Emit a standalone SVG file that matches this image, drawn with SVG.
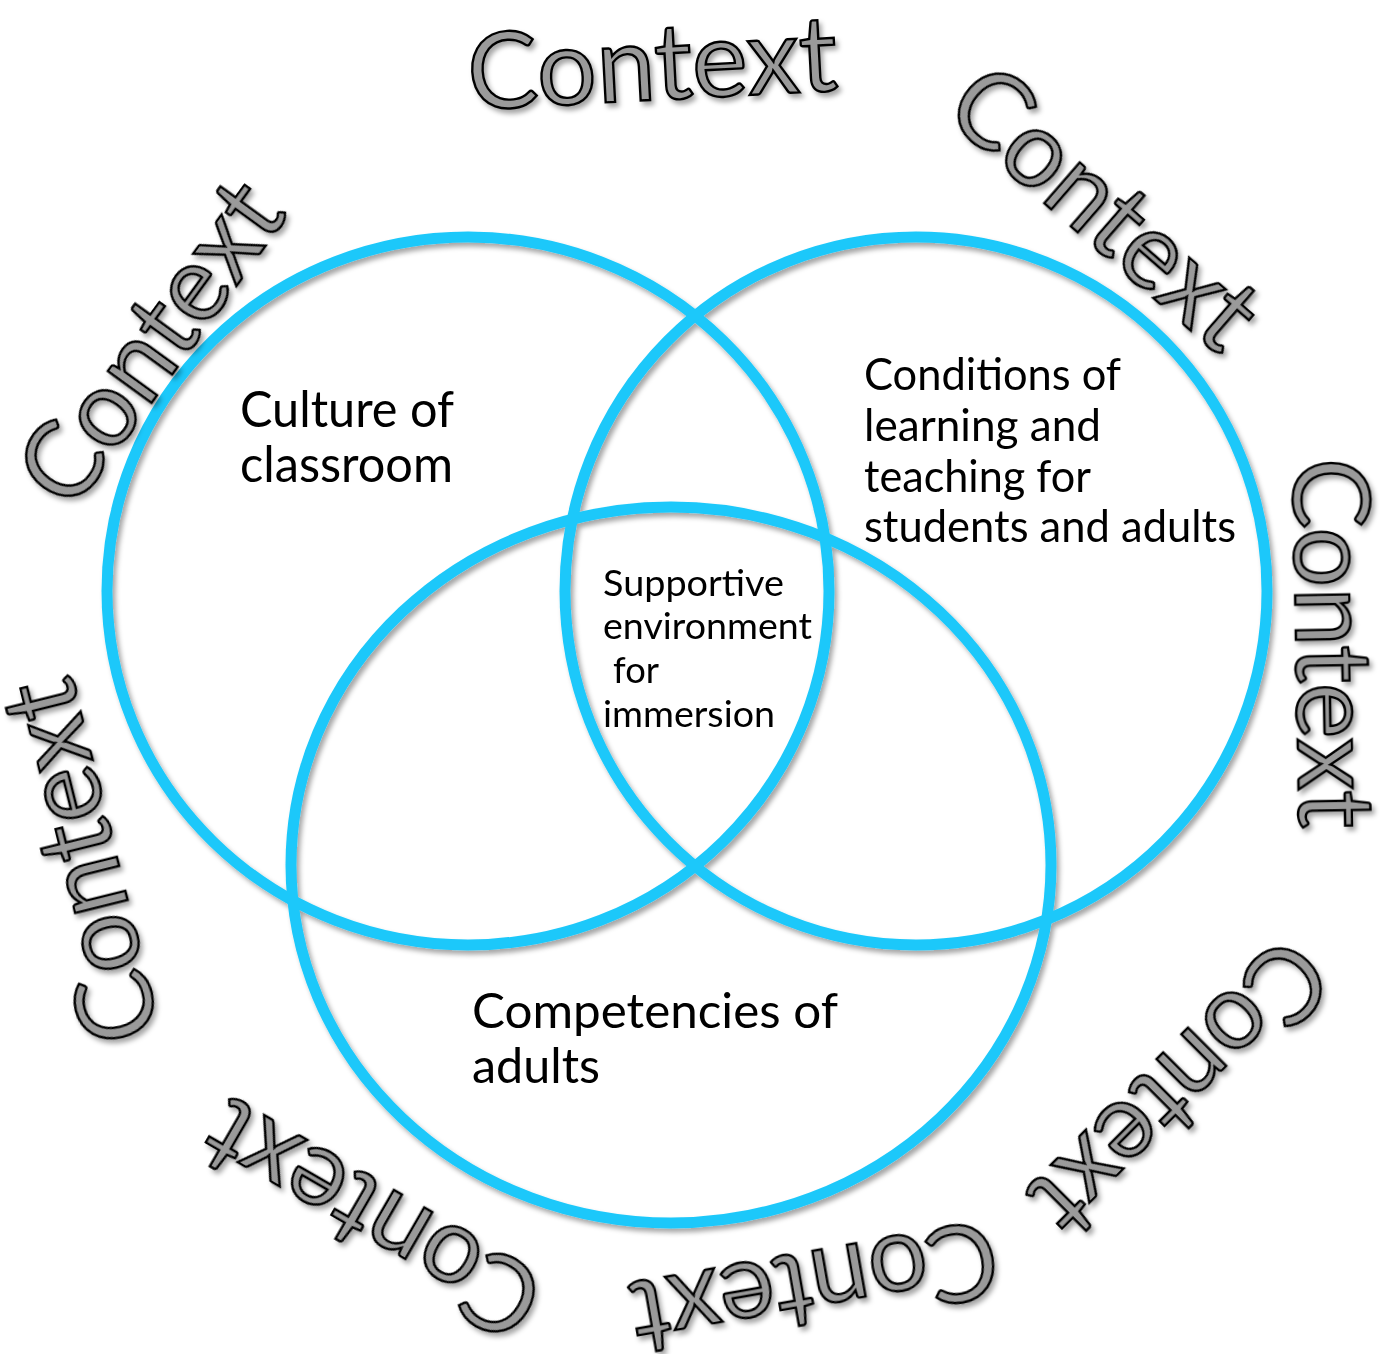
<svg xmlns="http://www.w3.org/2000/svg" width="1392" height="1354" viewBox="0 0 1392 1354">
  <defs>
    <filter id="shadow" x="-10%" y="-10%" width="130%" height="130%">
      <feDropShadow dx="3" dy="4" stdDeviation="2.5" flood-color="#000" flood-opacity="0.35"/>
    </filter>
    <style>
      .ring { fill: none; stroke: #1ec8fa; stroke-width: 11; }
      .ctx { font-family: Lato, "Noto Sans", sans-serif; font-weight: 400; font-size: 106px; fill: #9a9a9a; stroke: #000; stroke-width: 2.4; text-anchor: middle; }
      .lbl { font-family: Lato, "Noto Sans", sans-serif; fill: #000; }
    </style>
  </defs>
  <rect width="1392" height="1354" fill="#fff"/>

  <g id="circles" filter="url(#shadow)">
    <ellipse id="circle-culture" class="ring" cx="468" cy="591" rx="361" ry="354"/>
    <ellipse id="circle-conditions" class="ring" cx="916" cy="591" rx="351" ry="354"/>
    <ellipse id="circle-competencies" class="ring" cx="671" cy="865" rx="380" ry="358"/>
  </g>

  <g id="context-labels" filter="url(#shadow)">
    <g id="ctx-top" transform="translate(652,63) rotate(-3)"><text class="ctx" x="0" y="37" textLength="370" lengthAdjust="spacingAndGlyphs">Context</text></g>
    <g id="ctx-upper-right" transform="translate(1105,207) rotate(41)"><text class="ctx" x="0" y="37" textLength="370" lengthAdjust="spacingAndGlyphs">Context</text></g>
    <g id="ctx-right" transform="translate(1333,643) rotate(89)"><text class="ctx" x="0" y="37" textLength="370" lengthAdjust="spacingAndGlyphs">Context</text></g>
    <g id="ctx-lower-right" transform="translate(1180,1088) rotate(135)"><text class="ctx" x="0" y="37" textLength="370" lengthAdjust="spacingAndGlyphs">Context</text></g>
    <g id="ctx-bottom" transform="translate(815,1288) rotate(170)"><text class="ctx" x="0" y="37" textLength="370" lengthAdjust="spacingAndGlyphs">Context</text></g>
    <g id="ctx-lower-left" transform="translate(372,1220) rotate(210)"><text class="ctx" x="0" y="37" textLength="370" lengthAdjust="spacingAndGlyphs">Context</text></g>
    <g id="ctx-left" transform="translate(80,862) rotate(256)"><text class="ctx" x="0" y="37" textLength="370" lengthAdjust="spacingAndGlyphs">Context</text></g>
    <g id="ctx-upper-left" transform="translate(150,342) rotate(-54)"><text class="ctx" x="0" y="37" textLength="370" lengthAdjust="spacingAndGlyphs">Context</text></g>
  </g>

  <g id="node-culture">
    <text class="lbl" font-size="50"><tspan x="240" y="427" textLength="214" lengthAdjust="spacingAndGlyphs">Culture of</tspan><tspan x="240" y="482" textLength="213" lengthAdjust="spacingAndGlyphs">classroom</tspan></text>
  </g>
  <g id="node-conditions">
    <text class="lbl" font-size="45"><tspan x="864" y="390" textLength="257" lengthAdjust="spacingAndGlyphs">Conditions of</tspan><tspan x="864" y="441" textLength="237" lengthAdjust="spacingAndGlyphs">learning and</tspan><tspan x="864" y="492" textLength="227" lengthAdjust="spacingAndGlyphs">teaching for</tspan><tspan x="864" y="542" textLength="372" lengthAdjust="spacingAndGlyphs">students and adults</tspan></text>
  </g>
  <g id="node-supportive">
    <text class="lbl" font-size="37"><tspan x="603" y="596" textLength="181" lengthAdjust="spacingAndGlyphs">Supportive</tspan><tspan x="603" y="639" textLength="209" lengthAdjust="spacingAndGlyphs">environment</tspan><tspan x="613" y="683" textLength="46" lengthAdjust="spacingAndGlyphs">for</tspan><tspan x="603" y="727" textLength="172" lengthAdjust="spacingAndGlyphs">immersion</tspan></text>
  </g>
  <g id="node-competencies">
    <text class="lbl" font-size="48"><tspan x="472" y="1028" textLength="366" lengthAdjust="spacingAndGlyphs">Competencies of</tspan><tspan x="472" y="1083" textLength="128" lengthAdjust="spacingAndGlyphs">adults</tspan></text>
  </g>
</svg>
